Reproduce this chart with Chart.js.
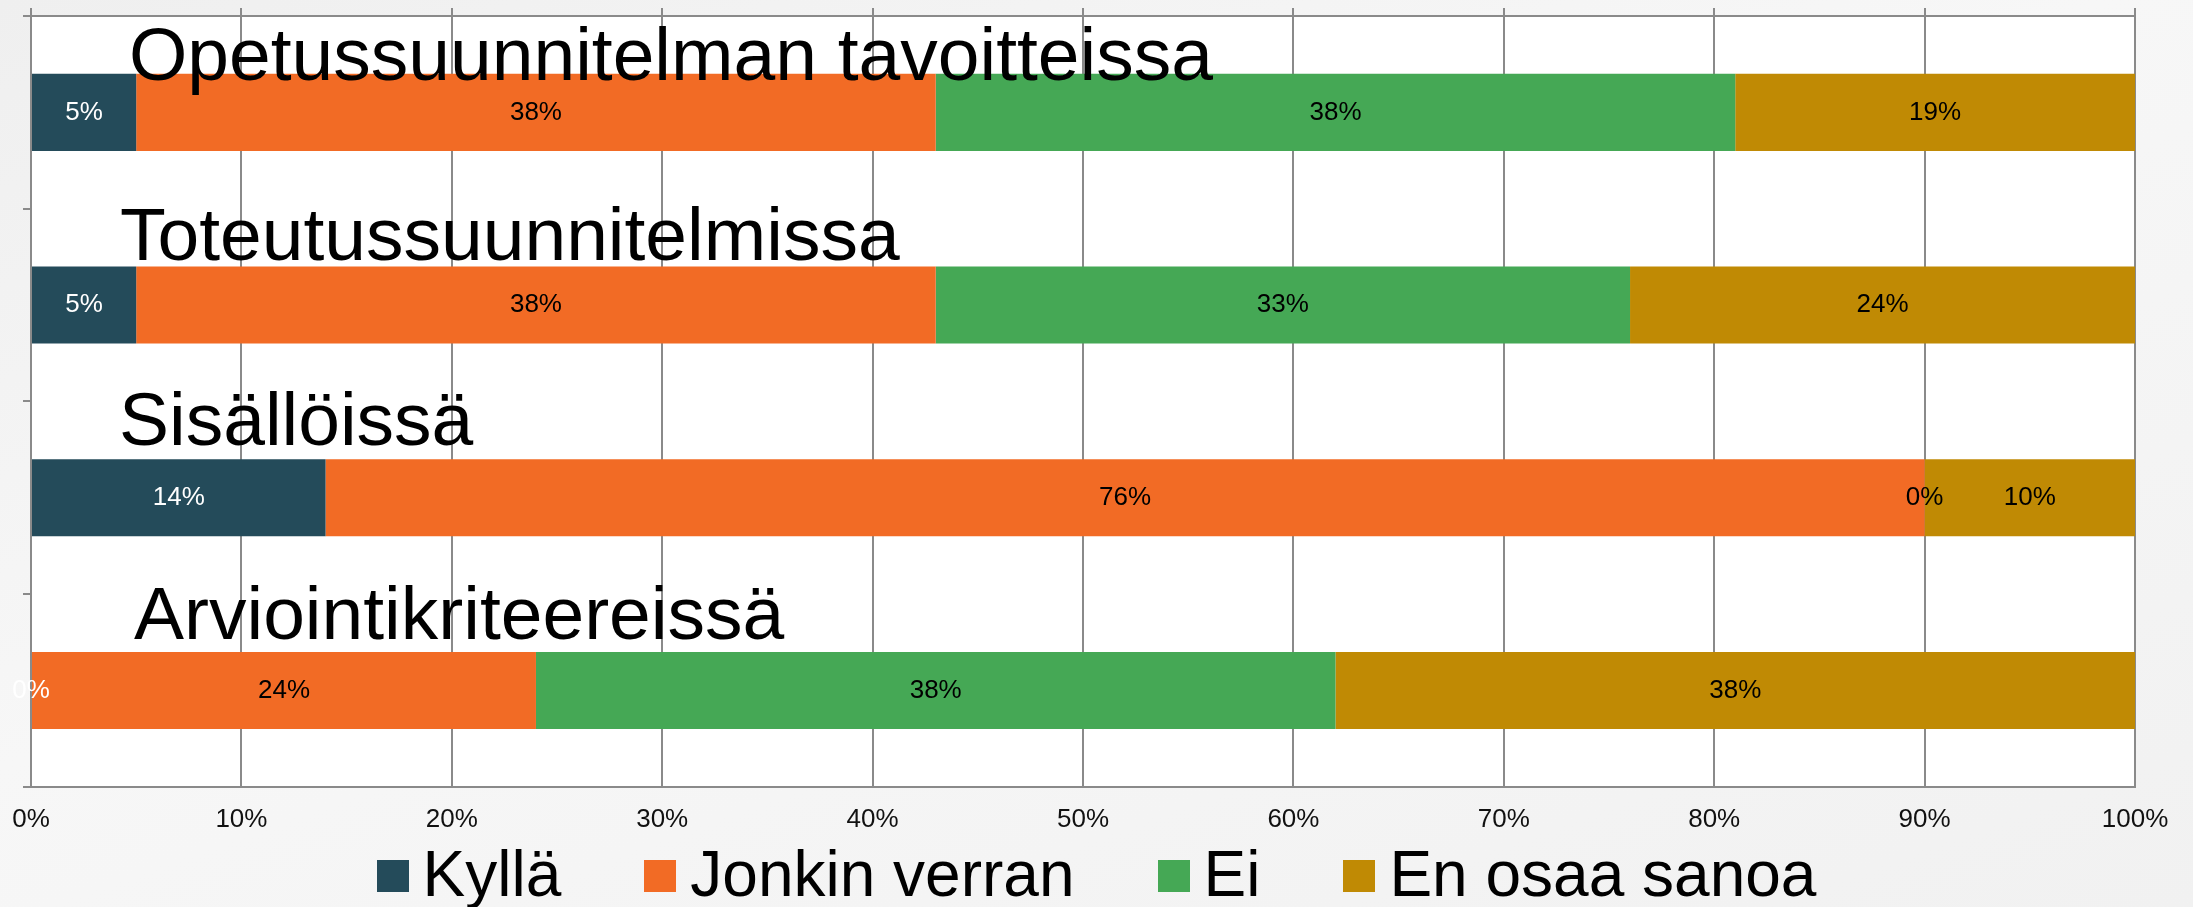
<!DOCTYPE html>
<html>
<head>
<meta charset="utf-8">
<script src="https://cdn.jsdelivr.net/npm/chart.js@4.4.1/dist/chart.umd.min.js"></script>
<style>
  html, body { margin: 0; padding: 0; }
  body {
    width: 2193px; height: 907px; overflow: hidden; position: relative;
    background: linear-gradient(160deg, #efefef 0%, #f7f7f7 45%, #f1f1f1 100%);
    font-family: "Liberation Sans", Arial, sans-serif;
  }
  #chart { position: absolute; left: 0; top: 0; }
  #legend {
    position: absolute; left: 0; top: 842px; width: 100%;
    display: flex; justify-content: center; gap: 83px;
    font-size: 64px; line-height: 64px; color: #000;
  }
  .item { display: flex; align-items: center; }
  .box { width: 32px; height: 32px; margin-right: 14px; position: relative; top: 2px; }
</style>
</head>
<body>
<canvas id="chart" width="2193" height="907"></canvas>
<div id="legend"></div>
<script>
// data
const categories = ['Opetussuunnitelman tavoitteissa', 'Toteutussuunnitelmissa', 'Sisällöissä', 'Arviointikriteereissä'];
const seriesNames = ['Kyllä', 'Jonkin verran', 'Ei', 'En osaa sanoa'];
const kylla = [5, 5, 14, 0];
const jonkinVerran = [38, 38, 76, 24];
const ei = [38, 33, 0, 38];
const enOsaaSanoa = [19, 24, 10, 38];
const xTicks = [0, 10, 20, 30, 40, 50, 60, 70, 80, 90, 100];

// styles
const colors = ['#244b5a', '#f26b25', '#45a855', '#c08a04'];
const valueColors = ['#ffffff', '#000000', '#000000', '#000000'];
const titleNudge = [{dx: 98, dy: -32}, {dx: 89, dy: -45}, {dx: 88, dy: -53}, {dx: 103, dy: -51}];
const gridColor = '#8a8a8a';
const FONT = '"Liberation Sans", Arial, sans-serif';

Chart.defaults.font.family = FONT;

// valkoinen piirtoalue
const plotBg = {
    id: 'plotBg',
    beforeDraw(chart) {
        const {ctx, chartArea: a} = chart;
        ctx.save();
        ctx.fillStyle = '#fff';
        ctx.fillRect(a.left, a.top, a.right - a.left, a.bottom - a.top);
        ctx.restore();
    }
};

// arvot palkkeihin + kategorioiden otsikot
const barLabels = {
    id: 'barLabels',
    afterDatasetsDraw(chart) {
        const ctx = chart.ctx;
        ctx.save();
        ctx.font = '26px ' + FONT;
        ctx.textAlign = 'center';
        ctx.textBaseline = 'middle';
        chart.data.datasets.forEach((ds, i) => {
            const meta = chart.getDatasetMeta(i);
            ctx.fillStyle = valueColors[i];
            meta.data.forEach((bar, j) => {
                ctx.fillText(ds.data[j] + '%', (bar.x + bar.base) / 2, bar.y);
            });
        });

        const yScale = chart.scales.y;
        ctx.font = '75px ' + FONT;
        ctx.textAlign = 'left';
        ctx.textBaseline = 'alphabetic';
        ctx.fillStyle = '#000';
        categories.forEach((c, j) => {
            ctx.fillText(c, chart.chartArea.left + titleNudge[j].dx, yScale.getPixelForValue(j) + titleNudge[j].dy);
        });
        ctx.restore();
    }
};

const series = [kylla, jonkinVerran, ei, enOsaaSanoa];

new Chart(document.getElementById('chart'), {
    type: 'bar',
    data: {
        labels: categories,
        datasets: series.map((d, i) => ({
            label: seriesNames[i],
            data: d,
            backgroundColor: colors[i],
            borderWidth: 0,
            barPercentage: 0.4,
            categoryPercentage: 1.0
        }))
    },
    options: {
        indexAxis: 'y',
        responsive: false,
        animation: false,
        layout: { padding: { left: 23, top: 8, right: 58, bottom: 55 } },
        plugins: {
            legend: { display: false },
            tooltip: { enabled: false }
        },
        scales: {
            x: {
                stacked: true,
                min: 0, max: 100,
                afterBuildTicks: (s) => { s.ticks = xTicks.map(v => ({ value: v })); },
                afterFit: (s) => { s.paddingLeft = 0; },
                grid: { color: gridColor, lineWidth: 2, drawTicks: false },
                border: { color: gridColor, width: 2 },
                ticks: { color: '#111', font: { size: 26 }, padding: 17, callback: (v) => v + '%' }
            },
            x2: {
                type: 'linear',
                position: 'top',
                min: 0, max: 100,
                afterBuildTicks: (s) => { s.ticks = xTicks.map(v => ({ value: v })); },
                grid: { color: gridColor, lineWidth: 2, drawOnChartArea: false, tickLength: 8 },
                border: { color: gridColor, width: 2 },
                ticks: { display: false }
            },
            y: {
                stacked: true,
                grid: { color: gridColor, lineWidth: 2, drawOnChartArea: false, tickLength: 8, offset: true },
                border: { color: gridColor, width: 2 },
                ticks: { display: false }
            }
        }
    },
    plugins: [plotBg, barLabels]
});

// selite
const legend = document.getElementById('legend');
seriesNames.forEach((name, i) => {
    const item = document.createElement('div');
    item.className = 'item';
    const box = document.createElement('span');
    box.className = 'box';
    box.style.background = colors[i];
    const txt = document.createElement('span');
    txt.textContent = name;
    item.appendChild(box);
    item.appendChild(txt);
    legend.appendChild(item);
});
</script>
</body>
</html>
